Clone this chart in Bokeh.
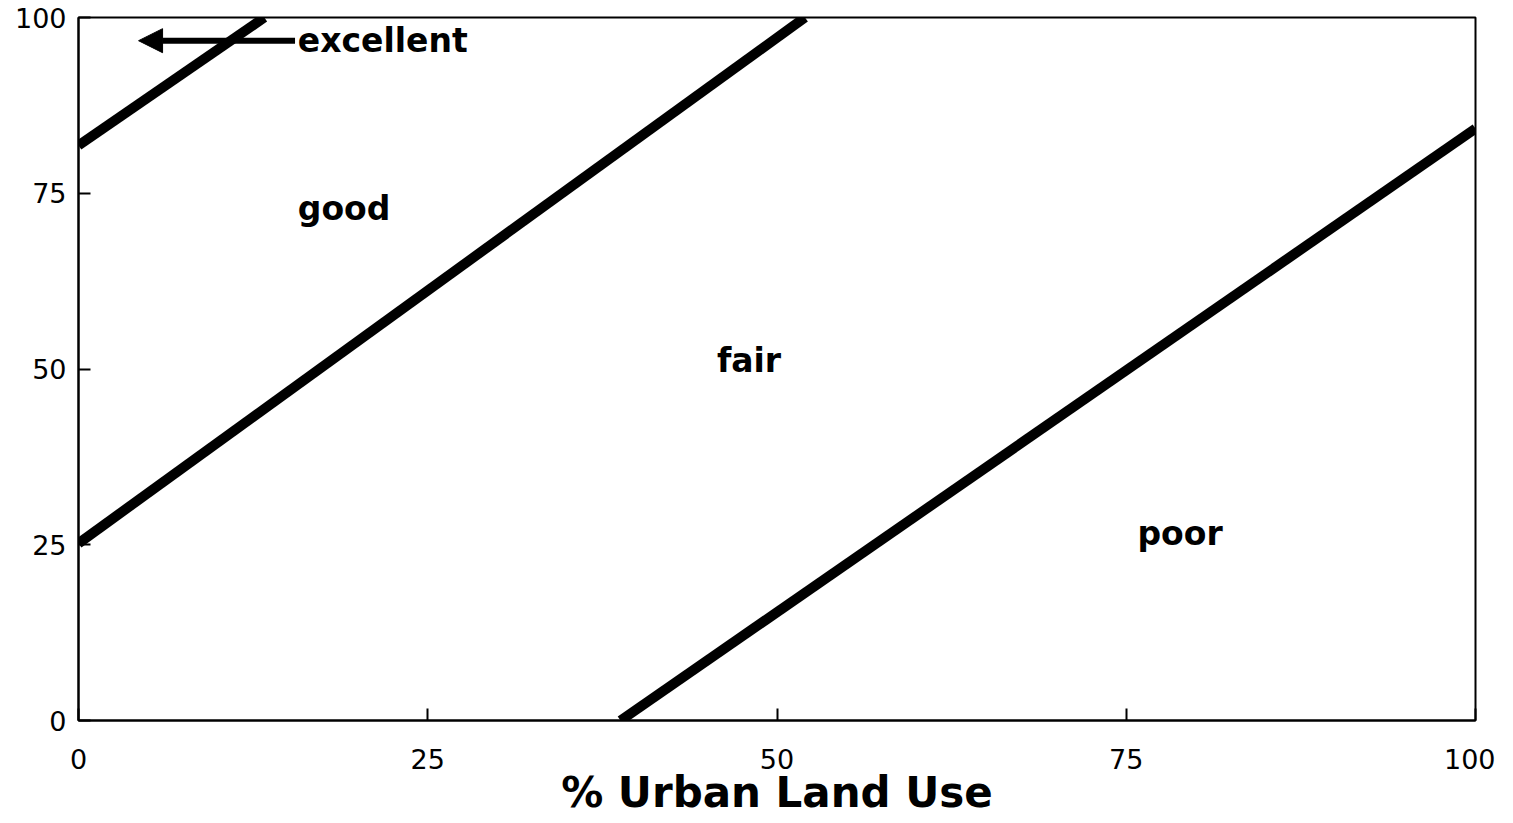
from bokeh.plotting import figure
from bokeh.models import Range1d, Arrow, NormalHead, FixedTicker
from bokeh.core.properties import value
from bokeh.embed import file_html
from bokeh.resources import INLINE

# Class boundary lines (x = % urban land use, y = value)
excellent_good_x = [0, 13.3]
excellent_good_y = [81.8, 100]
good_fair_x = [0, 52.0]
good_fair_y = [25.2, 100]
fair_poor_x = [38.8, 100]
fair_poor_y = [0, 84.2]

# Region labels
label_text = ["excellent", "good", "fair", "poor"]
label_x = [15.7, 15.7, 45.7, 75.8]
label_y = [96.7, 72.8, 51.2, 26.6]

# Arrow for "excellent"
arrow_x = [15.5, 4.3]
arrow_y = [96.7, 96.7]

ticks = [0, 25, 50, 75, 100]
tick_labels = ["0", "25", "50", "75", "100"]

p = figure(frame_width=1397, frame_height=703, output_backend="svg",
           toolbar_location=None, x_range=Range1d(0, 100), y_range=Range1d(0, 100),
           min_border_left=78, min_border_top=17, min_border_right=20, min_border_bottom=0)

p.grid.visible = False
p.outline_line_color = "black"
p.outline_line_width = 2
p.background_fill_color = "white"
p.border_fill_color = "white"

for ax in (p.xaxis[0], p.yaxis[0]):
    ax.ticker = FixedTicker(ticks=ticks)
    ax.major_label_overrides = {t: l for t, l in zip(ticks, tick_labels)}
    ax.major_tick_in = 12
    ax.major_tick_out = 0
    ax.minor_tick_in = 0
    ax.minor_tick_out = 0
    ax.axis_line_width = 2
    ax.major_tick_line_width = 2
    ax.axis_line_color = "black"
    ax.major_tick_line_color = "black"
    ax.major_label_text_font = "DejaVu Sans"
    ax.major_label_text_font_size = "27px"
    ax.major_label_text_color = "black"

p.yaxis.major_label_standoff = 12
p.xaxis.major_label_standoff = 28
p.xaxis.axis_label = "% Urban Land Use"
p.xaxis.axis_label_text_font = "DejaVu Sans"
p.xaxis.axis_label_text_font_style = "bold"
p.xaxis.axis_label_text_font_size = "42px"
p.xaxis.axis_label_text_color = "black"
p.xaxis.axis_label_standoff = -4

for xs, ys in ((excellent_good_x, excellent_good_y), (good_fair_x, good_fair_y), (fair_poor_x, fair_poor_y)):
    p.line(xs, ys, line_color="black", line_width=10)

p.add_layout(Arrow(end=NormalHead(size=24, fill_color="black", line_color="black"),
                   x_start=arrow_x[0], y_start=arrow_y[0], x_end=arrow_x[1], y_end=arrow_y[1],
                   line_width=6, line_color="black"))

p.text(x=label_x, y=label_y, text=label_text, text_font=value("DejaVu Sans"),
       text_font_style="bold", text_font_size="33px", text_align="left",
       text_baseline="middle", text_color="black")

open("out.html", "w").write(file_html(p, INLINE))
